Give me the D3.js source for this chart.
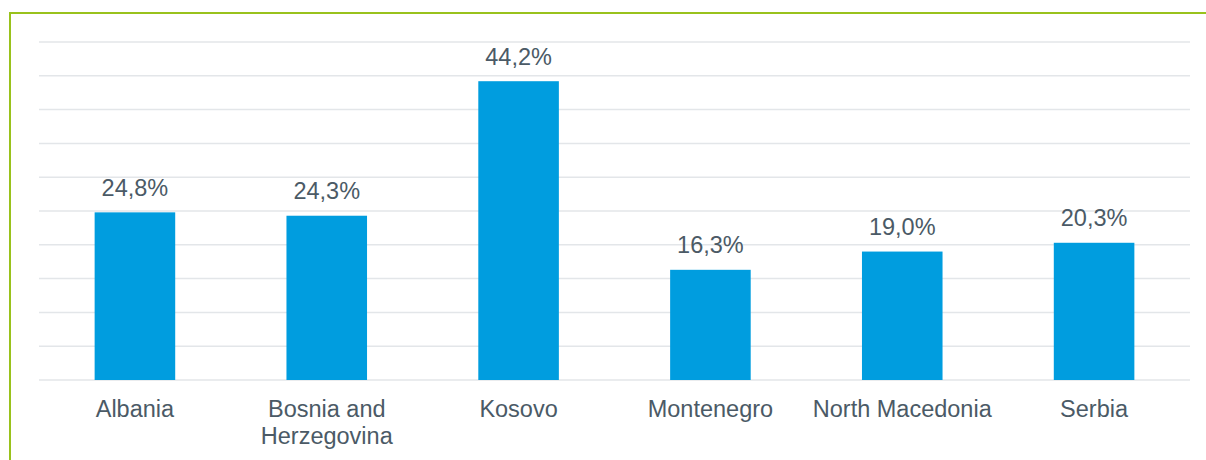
<!DOCTYPE html>
<html>
<head>
<meta charset="utf-8">
<script src="https://cdn.jsdelivr.net/npm/d3@7"></script>
<style>
  body { margin: 0; background: #fff; }
  svg text { font-family: "Liberation Sans", Arial, sans-serif; fill: #4b5a66; }
</style>
</head>
<body>
<div id="chart"></div>
<script>
// data
var countries = ["Albania", "Bosnia and Herzegovina", "Kosovo", "Montenegro", "North Macedonia", "Serbia"];
var labelLines = [["Albania"], ["Bosnia and", "Herzegovina"], ["Kosovo"], ["Montenegro"], ["North Macedonia"], ["Serbia"]];
var shares = [24.8, 24.3, 44.2, 16.3, 19.0, 20.3];
var yTicks = [0, 5, 10, 15, 20, 25, 30, 35, 40, 45, 50];

var WIDTH = 1206, HEIGHT = 460;
var PLOT_LEFT = 39, PLOT_RIGHT = 1190, PLOT_TOP = 42, PLOT_BOTTOM = 380;
var BAR_FRAC = 0.42;
var FONT = "23.5px";

var svg = d3.select("#chart")
    .append("svg")
    .attr("width", WIDTH)
    .attr("height", HEIGHT);

// green frame (top and left only)
svg.append("path")
    .attr("d", `M10,${HEIGHT} L10,13 L${WIDTH},13`)
    .attr("fill", "none")
    .attr("stroke", "#99c21c")
    .attr("stroke-width", 2);

var x = d3.scaleBand()
    .domain(countries)
    .range([PLOT_LEFT, PLOT_RIGHT])
    .padding(0);

var y = d3.scaleLinear()
    .domain([0, 50])
    .range([PLOT_BOTTOM, PLOT_TOP]);

// gridlines
svg.append("g")
    .attr("id", "grid")
    .selectAll("line")
    .data(yTicks)
    .enter()
    .append("line")
    .attr("x1", PLOT_LEFT)
    .attr("x2", PLOT_RIGHT)
    .attr("y1", d => y(d))
    .attr("y2", d => y(d))
    .attr("stroke", "#e3e6e9")
    .attr("stroke-width", 1.5);

var barW = x.bandwidth() * BAR_FRAC;

var bars = svg.append("g").attr("id", "bars");

bars.selectAll("rect")
    .data(shares)
    .enter()
    .append("rect")
    .attr("x", (d, i) => x(countries[i]) + (x.bandwidth() - barW) / 2)
    .attr("y", d => y(d))
    .attr("width", barW)
    .attr("height", d => y(0) - y(d))
    .attr("fill", "#009ddf");

// value labels
bars.selectAll("text")
    .data(shares)
    .enter()
    .append("text")
    .attr("x", (d, i) => x(countries[i]) + x.bandwidth() / 2)
    .attr("y", d => y(d) - 16.5)
    .attr("text-anchor", "middle")
    .style("font-size", FONT)
    .text(d => d.toFixed(1).replace(".", ",") + "%");

// category labels
var cats = svg.append("g").attr("id", "xAxis");
cats.selectAll("text")
    .data(countries)
    .enter()
    .append("text")
    .attr("x", d => x(d) + x.bandwidth() / 2)
    .attr("y", PLOT_BOTTOM + 36.5)
    .attr("text-anchor", "middle")
    .style("font-size", FONT)
    .each(function(d, i) {
        var t = d3.select(this);
        labelLines[i].forEach(function(line, j) {
            t.append("tspan")
                .attr("x", x(d) + x.bandwidth() / 2)
                .attr("dy", j == 0 ? 0 : 27)
                .text(line);
        });
    });
</script>
</body>
</html>
